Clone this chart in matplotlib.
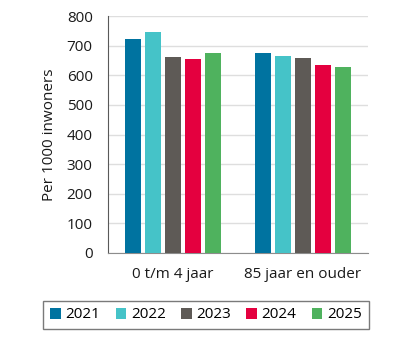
import numpy as np
import matplotlib.pyplot as plt

categories = ['0 t/m 4 jaar', '85 jaar en ouder']
years = ['2021', '2022', '2023', '2024', '2025']
values = {
    '2021': [723, 675],
    '2022': [746, 665],
    '2023': [662, 659],
    '2024': [655, 635],
    '2025': [675, 628],
}
colors = ['#0073A0', '#45C3C8', '#5E5A56', '#E4003F', '#4FB25E']

plt.rcParams['font.family'] = ['Open Sans', 'DejaVu Sans']
fs = 11

fig = plt.figure(figsize=(3.99, 3.40), dpi=100)
ax = fig.add_axes([108 / 399, 1 - 253 / 340, 260 / 399, 237 / 340])

x = np.arange(len(categories))
step = 0.154
width = 0.119
for i, yr in enumerate(years):
    ax.bar(x + (i - 2) * step, values[yr], width=width, color=colors[i], label=yr, zorder=3)

ax.set_xlim(-0.5, 1.5)
ax.set_ylim(0, 800)
ax.set_yticks(range(0, 801, 100))
ax.set_xticks(x)
ax.set_xticklabels(categories, fontsize=fs, color='#1a1a1a')
ax.tick_params(axis='both', length=0, labelsize=fs, colors='#1a1a1a')
ax.tick_params(axis='x', pad=10)
ax.tick_params(axis='y', pad=11)
ax.grid(axis='y', color='#dedede', linewidth=1.0, zorder=0)
ax.set_ylabel('Per 1000 inwoners', fontsize=fs, color='#1a1a1a', labelpad=7)

for side in ['top', 'right']:
    ax.spines[side].set_visible(False)
ax.spines['left'].set_color('#595959')
ax.spines['bottom'].set_color('#8c8c8c')

leg = fig.legend(loc='center', bbox_to_anchor=(206 / 399, 1 - 315 / 340), ncol=5,
                 fontsize=fs, frameon=True, fancybox=False, handlelength=0.7,
                 handleheight=0.7, handletextpad=0.3, columnspacing=1.0,
                 borderpad=0.45)
leg.get_frame().set_edgecolor('#595959')
leg.get_frame().set_linewidth(1.0)

fig.savefig('out.png', dpi=100)
